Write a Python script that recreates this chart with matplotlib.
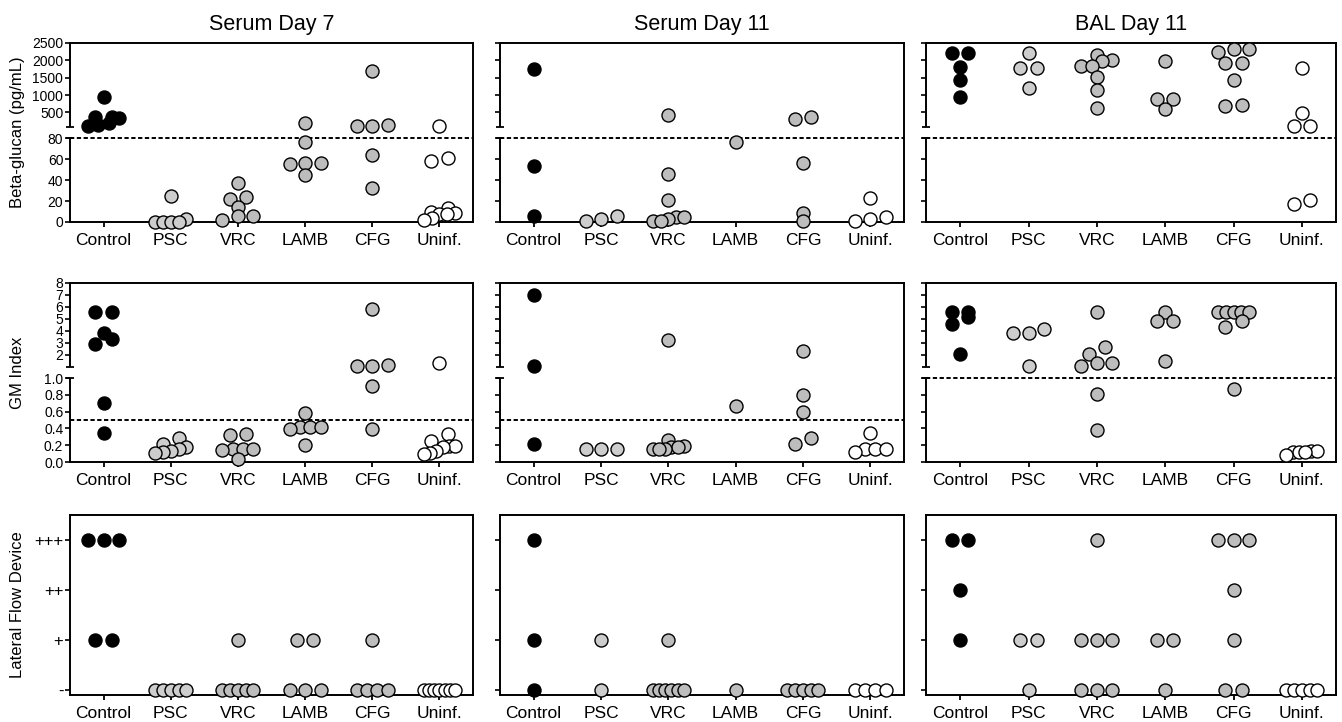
import matplotlib.pyplot as plt
import numpy as np

plt.rcParams['font.family'] = ['Liberation Sans', 'DejaVu Sans']

W, H = 1342, 722

groups = ['Control', 'PSC', 'VRC', 'LAMB', 'CFG', 'Uninf.']
titles = ['Serum Day 7', 'Serum Day 11', 'BAL Day 11']
ylabels = ['Beta-glucan (pg/mL)', 'GM Index', 'Lateral Flow Device']
colors = ['black', '#cdcdcd', '#bdbdbd', '#bdbdbd', '#bdbdbd', 'white']

# Beta-glucan (pg/mL), one list per group
bg_serum_d7 = [
    [930, 380, 355, 330, 200, 150, 100],
    [25, 3, 0, 0, 0, 0],
    [37, 24, 22, 14, 6, 6, 2],
    [190, 76, 56, 56, 55, 45],
    [1700, 135, 105, 105, 64, 32],
    [105, 61, 58, 13, 10, 9, 8, 8, 3.5, 1.5],
]
bg_serum_d11 = [
    [1740, 53, 6],
    [6, 3, 0.5],
    [440, 46, 21, 5, 5, 3, 0.5, 0.5],
    [76],
    [355, 300, 56, 9, 0.5],
    [23, 5, 2.5, 0.5],
]
bg_bal_d11 = [
    [2200, 2200, 1800, 1430, 950],
    [2200, 1770, 1770, 1190],
    [2150, 2010, 1990, 1850, 1850, 1510, 1160, 615],
    [1990, 900, 900, 590],
    [2320, 2320, 2250, 1930, 1930, 1430, 700, 680],
    [1770, 470, 105, 105, 21, 17],
]

# galactomannan index
gm_serum_d7 = [
    [5.55, 5.55, 3.8, 3.35, 2.95, 0.7, 0.34],
    [0.28, 0.21, 0.18, 0.15, 0.13, 0.12, 0.11],
    [0.33, 0.32, 0.15, 0.15, 0.15, 0.14, 0.04],
    [0.58, 0.42, 0.42, 0.42, 0.39, 0.2],
    [5.85, 1.15, 1.05, 1.05, 0.9, 0.39],
    [1.3, 0.33, 0.25, 0.19, 0.19, 0.18, 0.13, 0.11, 0.1],
]
gm_serum_d11 = [
    [7.0, 1.05, 0.22],
    [0.16, 0.16, 0.15],
    [3.25, 0.26, 0.19, 0.18, 0.18, 0.16, 0.15, 0.15],
    [0.67],
    [2.3, 0.8, 0.59, 0.28, 0.21],
    [0.34, 0.16, 0.16, 0.16, 0.12],
]
gm_bal_d11 = [
    [5.6, 5.6, 5.15, 4.6, 2.05],
    [4.2, 3.85, 3.85, 1.1],
    [5.6, 2.65, 2.1, 1.35, 1.35, 1.05, 0.81, 0.38],
    [5.6, 4.8, 4.8, 1.5],
    [5.6, 5.6, 5.6, 5.6, 5.6, 4.85, 4.35, 0.87],
    [0.13, 0.13, 0.12, 0.12, 0.12, 0.08],
]

# lateral flow device score: 0 = -, 1 = +, 2 = ++, 3 = +++
lfd_levels = ['-', '+', '++', '+++']
lfd_serum_d7 = [
    [3, 3, 3, 1, 1],
    [0, 0, 0, 0, 0],
    [1, 0, 0, 0, 0, 0],
    [1, 1, 0, 0, 0],
    [1, 0, 0, 0, 0],
    [0, 0, 0, 0, 0, 0, 0],
]
lfd_serum_d11 = [
    [3, 1, 0],
    [1, 0],
    [1, 0, 0, 0, 0, 0, 0],
    [0],
    [0, 0, 0, 0, 0],
    [0, 0, 0, 0],
]
lfd_bal_d11 = [
    [3, 3, 2, 1],
    [1, 1, 0],
    [3, 1, 1, 1, 0, 0, 0],
    [1, 1, 0],
    [3, 3, 3, 2, 1, 0, 0],
    [0, 0, 0, 0, 0],
]

bg_cutoff = 80
gm_cutoffs = [0.5, 0.5, 1.0]

GAP = 0.131  # gap between the two pieces of a broken axis (in segment heights)


def broken(brk, top):
    def fwd(y):
        y = np.asarray(y, dtype=float)
        return np.where(y <= brk, y / brk, 1 + GAP + (y - brk) / (top - brk))

    def inv(t):
        t = np.asarray(t, dtype=float)
        up = brk + (t - 1 - GAP) * (top - brk)
        return np.where(t <= 1, t * brk, np.where(t >= 1 + GAP, up, brk))
    return fwd, inv


def swarm(ax, vals, step_px=16.5, width_px=31, row_px=8):
    # points close in height sit side by side, centred on the column
    vals = np.asarray(vals, dtype=float)
    ys = ax.transData.transform(np.column_stack([np.zeros(len(vals)), vals]))[:, 1]
    order = np.argsort(ys, kind='stable')
    rows = []
    for i in order:
        if rows and ys[i] - ys[rows[-1][0]] < row_px:
            rows[-1].append(i)
        else:
            rows.append([i])
    offs = np.zeros(len(vals))
    for row in rows:
        n = len(row)
        if n > 1:
            step = min(step_px, width_px / (n - 1))
            for k, i in enumerate(row):
                offs[i] = (k - (n - 1) / 2) * step
    x0, x1 = ax.get_xlim()
    return offs * (x1 - x0) / ax.bbox.width


fig = plt.figure(figsize=(W / 100, H / 100), dpi=100)

cols = [(70, 473), (500, 904), (926, 1336)]
rows_px = [(43, 222), (283, 462), (515, 695)]
panels = [
    [bg_serum_d7, bg_serum_d11, bg_bal_d11],
    [gm_serum_d7, gm_serum_d11, gm_bal_d11],
    [lfd_serum_d7, lfd_serum_d11, lfd_bal_d11],
]

for r in range(3):
    for c in range(3):
        (x0, x1), (y0, y1) = cols[c], rows_px[r]
        ax = fig.add_axes([x0 / W, 1 - y1 / H, (x1 - x0) / W, (y1 - y0) / H])
        ax.set_xlim(-0.5, 5.5)
        for s in ax.spines.values():
            s.set_linewidth(1.4)

        if r < 2:
            if r == 0:
                brk, top = 80, 2500
                ticks = [0, 20, 40, 60, 80, 500, 1000, 1500, 2000, 2500]
                labels = [str(t) for t in ticks]
                cut = bg_cutoff
            else:
                brk, top = 1, 8
                ticks = [0, 0.2, 0.4, 0.6, 0.8, 1.0, 2, 3, 4, 5, 6, 7, 8]
                labels = ['0.0', '0.2', '0.4', '0.6', '0.8', '1.0',
                          '2', '3', '4', '5', '6', '7', '8']
                cut = gm_cutoffs[c]
            ax.set_yscale('function', functions=broken(brk, top))
            ax.set_ylim(0, top)
            ax.set_yticks(ticks, labels)
            ax.axhline(cut, color='black', lw=1.4, ls=(0, (2.2, 1.3)), zorder=2)
            # broken left spine
            ax.spines['left'].set_visible(False)
            f = 1 / (2 + GAP)
            ax.plot([0, 0], [0, f], transform=ax.transAxes, color='black',
                    lw=1.4, clip_on=False, solid_capstyle='butt')
            ax.plot([0, 0], [(1 + GAP) * f, 1], transform=ax.transAxes,
                    color='black', lw=1.4, clip_on=False, solid_capstyle='butt')
            ax.plot([0, 0], [f, (1 + GAP) * f], transform=ax.transAxes,
                    ls='none', marker='_', ms=6, mew=1.3, color='black',
                    clip_on=False)
            ysize = 10
        else:
            ax.set_ylim(-0.1, 3.5)
            ax.set_yticks(range(4), lfd_levels)
            ysize = 12

        ax.set_xticks(range(6), groups)
        ax.tick_params(axis='x', direction='out', length=3.5, width=1.3,
                       pad=4.5, labelsize=12.5)
        ax.tick_params(axis='y', direction='out', length=3.6, width=1.2,
                       pad=1.2, labelsize=ysize, labelleft=(c == 0))

        data = panels[r][c]
        for i, vals in enumerate(data):
            xs = i + swarm(ax, vals)
            ax.scatter(xs, vals, s=88, c=colors[i], edgecolors='black',
                       linewidths=1.0, zorder=3, clip_on=False)

        if r == 0:
            fig.text((x0 + x1) / 2 / W, 1 - 30 / H, titles[c], ha='center',
                     va='baseline', fontsize=15.5)
    ymid = (rows_px[r][0] + rows_px[r][1]) / 2
    fig.text(18 / W, 1 - ymid / H, ylabels[r], rotation=90, ha='center',
             va='center', fontsize=12)

fig.savefig('out.png', dpi=100)
